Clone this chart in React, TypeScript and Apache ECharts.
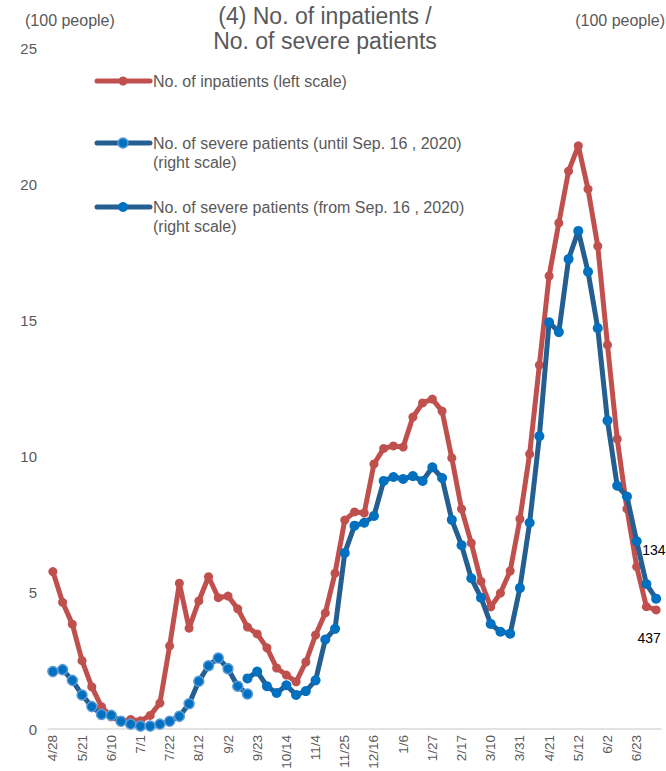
import React, { useEffect, useRef } from "react";
import * as echarts from "echarts";

const weeks: string[] = [
  "4/28", "5/7", "5/14", "5/21", "5/27", "6/3", "6/10", "6/17", "6/24", "7/1",
  "7/8", "7/15", "7/22", "7/29", "8/5", "8/12", "8/19", "8/26", "9/2", "9/9",
  "9/16", "9/23", "9/30", "10/7", "10/14", "10/21", "10/28", "11/4", "11/11", "11/18",
  "11/25", "12/2", "12/9", "12/16", "12/23", "12/30", "1/6", "1/13", "1/20", "1/27",
  "2/3", "2/10", "2/17", "2/24", "3/3", "3/10", "3/17", "3/24", "3/31", "4/7",
  "4/14", "4/21", "4/28", "5/5", "5/12", "5/19", "5/26", "6/2", "6/9", "6/16",
  "6/23", "6/30", "7/7",
];

// No. of inpatients (100 people), left scale
const inpatients: number[] = [
  5.78, 4.65, 3.85, 2.51, 1.55, 0.82, 0.45, 0.28, 0.35, 0.3,
  0.5, 0.95, 3.05, 5.35, 3.7, 4.7, 5.59, 4.82, 4.88, 4.41,
  3.74, 3.49, 2.98, 2.24, 1.98, 1.73, 2.46, 3.45, 4.26, 5.72,
  7.67, 7.97, 7.93, 9.73, 10.3, 10.39, 10.35, 11.45, 11.97, 12.11,
  11.67, 9.95, 8.08, 6.83, 5.42, 4.48, 4.99, 5.8, 7.71, 10.1,
  13.36, 16.63, 18.58, 20.48, 21.41, 19.82, 17.73, 14.1, 10.65, 8.08,
  5.96, 4.49, 4.37,
];

// No. of severe patients (100 people), right scale, 4/28 .. 9/16
const severeUntil: number[] = [
  0.59, 0.61, 0.5, 0.35, 0.23, 0.15, 0.14, 0.08, 0.05, 0.03,
  0.03, 0.05, 0.08, 0.13, 0.26, 0.49, 0.65, 0.73, 0.62, 0.44,
  0.36,
];

// No. of severe patients (100 people), right scale, 9/16 .. 7/7
const severeFrom: number[] = [
  0.52, 0.59, 0.44, 0.37, 0.45, 0.35, 0.39, 0.5, 0.92, 1.03,
  1.81, 2.09, 2.12, 2.19, 2.55, 2.59, 2.57, 2.6, 2.55, 2.69,
  2.58, 2.15, 1.89, 1.55, 1.35, 1.08, 1.0, 0.98, 1.45, 2.12,
  3.01, 4.18, 4.08, 4.83, 5.12, 4.7, 4.12, 3.17, 2.5, 2.39,
  1.93, 1.49, 1.34,
];

const leftTicks = { min: 0, max: 25, interval: 5 };
const rightTicks = { min: 0, max: 7 };

const titleLines = ["(4) No. of inpatients /", "No. of severe patients"];
const unitLabel = "(100 people)";
const legendNames = [
  "No. of inpatients (left scale)",
  "No. of severe patients (until Sep. 16 , 2020)",
  "No. of severe patients (from Sep. 16 , 2020)",
];
const legendSub = "(right scale)";
const lastInpatientLabel = "437";
const lastSevereLabel = "134";

const RED = "#C0504D";
const DARKBLUE = "#255E91";
const BLUE = "#0070C0";
const GRAY = "#595959";
const FONT = "'Liberation Sans', Arial, sans-serif";

export default function App() {
  const ref = useRef<HTMLDivElement>(null);

  useEffect(() => {
    document.body.style.margin = "0";
    if (!ref.current) return;
    const chart = echarts.init(ref.current, undefined, { renderer: "svg" });

    const n = weeks.length;
    const untilData: (number | null)[] = severeUntil.concat(
      new Array(n - severeUntil.length).fill(null)
    );
    const fromPad: (number | null)[] = new Array(n - severeFrom.length).fill(null);
    const fromData: any[] = fromPad.concat(severeFrom as any[]);
    const lastIdx = n - 1;
    fromData[lastIdx] = {
      value: severeFrom[severeFrom.length - 1],
      label: {
        show: true,
        formatter: lastSevereLabel,
        position: "inside",
        align: "left",
        verticalAlign: "middle",
        offset: [-14, -49],
        color: "#000",
        fontSize: 14,
        fontFamily: FONT,
      },
    };
    const redData: any[] = inpatients.slice();
    redData[lastIdx] = {
      value: inpatients[lastIdx],
      label: {
        show: true,
        formatter: lastInpatientLabel,
        position: "inside",
        align: "center",
        verticalAlign: "middle",
        offset: [-7, 28],
        color: "#000",
        fontSize: 14,
        fontFamily: FONT,
      },
    };

    const legendY = [81, 143, 207];
    const legendColors = [RED, DARKBLUE, DARKBLUE];
    const graphics: any[] = [];
    legendY.forEach((y, i) => {
      graphics.push({
        type: "line",
        shape: { x1: 97, y1: y, x2: 150, y2: y },
        style: { stroke: legendColors[i], lineWidth: 5, lineCap: "round" },
      });
      graphics.push({
        type: "circle",
        shape: { cx: 123, cy: y, r: i === 0 ? 4.5 : 5 },
        style: {
          fill: i === 0 ? RED : BLUE,
          stroke: i === 1 ? "#5B9BD5" : i === 0 ? RED : BLUE,
          lineWidth: i === 1 ? 1.5 : 0,
        },
      });
      graphics.push({
        type: "text",
        x: 153,
        y,
        style: {
          text: legendNames[i],
          fill: GRAY,
          font: `16px ${FONT}`,
          verticalAlign: "middle",
          align: "left",
        },
      });
      if (i > 0) {
        graphics.push({
          type: "text",
          x: 153,
          y: y + 19,
          style: {
            text: legendSub,
            fill: GRAY,
            font: `16px ${FONT}`,
            verticalAlign: "middle",
            align: "left",
          },
        });
      }
    });
    titleLines.forEach((t, i) => {
      graphics.push({
        type: "text",
        x: 325,
        y: 16 + i * 24.5,
        style: {
          text: t,
          fill: GRAY,
          font: `23px ${FONT}`,
          align: "center",
          verticalAlign: "middle",
        },
      });
    });
    graphics.push({
      type: "text",
      x: 25,
      y: 20,
      style: {
        text: unitLabel,
        fill: GRAY,
        font: `16px ${FONT}`,
        align: "left",
        verticalAlign: "middle",
      },
    });
    graphics.push({
      type: "text",
      x: 665,
      y: 20,
      style: {
        text: unitLabel,
        fill: GRAY,
        font: `16px ${FONT}`,
        align: "right",
        verticalAlign: "middle",
      },
    });

    chart.setOption({
      animation: false,
      backgroundColor: "#fff",
      grid: {
        left: 48,
        right: 5,
        top: 48,
        bottom: 42,
        containLabel: false,
        outerBoundsMode: "none",
      },
      xAxis: {
        type: "category",
        data: weeks,
        boundaryGap: true,
        axisLine: { show: true, lineStyle: { color: "#D9D9D9", width: 1.5 } },
        axisTick: { show: false },
        axisLabel: {
          interval: 2,
          rotate: 90,
          color: GRAY,
          fontSize: 13.5,
          fontFamily: FONT,
          margin: 6,
        },
        splitLine: { show: false },
      },
      yAxis: [
        {
          type: "value",
          min: leftTicks.min,
          max: leftTicks.max,
          interval: leftTicks.interval,
          axisLine: { show: false },
          axisTick: { show: false },
          splitLine: { show: false },
          axisLabel: { color: GRAY, fontSize: 15, fontFamily: FONT, margin: 11 },
        },
        {
          type: "value",
          min: rightTicks.min,
          max: rightTicks.max,
          axisLine: { show: false },
          axisTick: { show: false },
          splitLine: { show: false },
          axisLabel: { show: false },
        },
      ],
      graphic: graphics,
      series: [
        {
          name: legendNames[0],
          type: "line",
          yAxisIndex: 0,
          data: redData,
          symbol: "circle",
          symbolSize: 9,
          showAllSymbol: true,
          lineStyle: { color: RED, width: 5 },
          itemStyle: { color: RED },
          z: 2,
        },
        {
          name: legendNames[1],
          type: "line",
          yAxisIndex: 1,
          data: untilData,
          symbol: "circle",
          symbolSize: 10,
          showAllSymbol: true,
          lineStyle: { color: DARKBLUE, width: 5 },
          itemStyle: { color: BLUE, borderColor: "#5B9BD5", borderWidth: 1.5 },
          z: 3,
        },
        {
          name: legendNames[2],
          type: "line",
          yAxisIndex: 1,
          data: fromData,
          symbol: "circle",
          symbolSize: 10,
          showAllSymbol: true,
          lineStyle: { color: DARKBLUE, width: 5 },
          itemStyle: { color: BLUE },
          z: 3,
        },
      ],
    });

    return () => {
      chart.dispose();
    };
  }, []);

  return <div ref={ref} style={{ width: 666, height: 771 }} />;
}
